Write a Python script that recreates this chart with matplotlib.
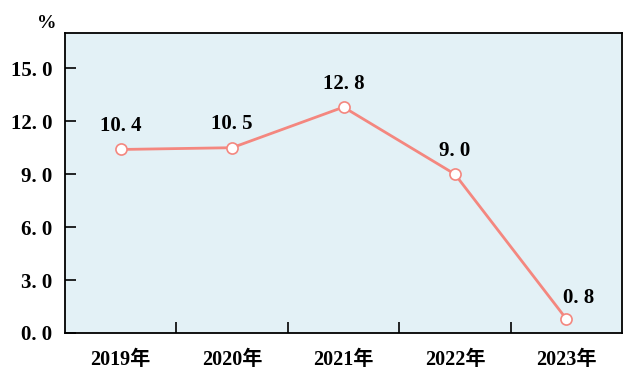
import matplotlib
matplotlib.use("Agg")
import matplotlib.pyplot as plt
from matplotlib.ticker import FixedLocator

categories = ["2019年", "2020年", "2021年", "2022年", "2023年"]
values = [10.4, 10.5, 12.8, 9.0, 0.8]
yticks = [0.0, 3.0, 6.0, 9.0, 12.0, 15.0]
ytick_labels = ["0. 0", "3. 0", "6. 0", "9. 0", "12. 0", "15. 0"]
value_labels = ["10. 4", "10. 5", "12. 8", "9. 0", "0. 8"]

fam = ["Liberation Serif", "Noto Sans CJK SC"]
line_color = "#F4877F"

fig = plt.figure(figsize=(6.42, 3.81), dpi=100)
ax = fig.add_axes([65/642, 48/381, 557/642, 300/381])
ax.set_facecolor("#E3F1F6")

x = list(range(len(categories)))
ax.plot(x, values, color=line_color, lw=2, marker="o", ms=8,
        mfc="white", mec=line_color, mew=1.2, zorder=3)

for i, (v, lab) in enumerate(zip(values, value_labels)):
    dx = 9 if i == len(values) - 1 else 0
    dy = 15 if i == len(values) - 1 else 17
    ax.annotate(lab, (i, v), xytext=(dx, dy), textcoords="offset points",
                ha="center", va="center", fontsize=15, fontweight="bold",
                family=fam, color="black")

ax.set_xlim(-0.5, len(categories) - 0.5)
ax.set_ylim(0, 17)
ax.set_yticks(yticks)
ax.set_yticklabels(ytick_labels, family=fam, fontsize=15, fontweight="bold")
ax.set_xticks(x)
ax.set_xticklabels(categories, family=fam, fontsize=14.5, fontweight="bold")
ax.tick_params(axis="x", which="major", length=0, pad=12)
ax.xaxis.set_minor_locator(FixedLocator([i + 0.5 for i in range(len(categories) - 1)]))
ax.tick_params(axis="x", which="minor", direction="in", length=8, width=1.2)
ax.tick_params(axis="y", direction="in", length=8, width=1.2, pad=9)
for s in ax.spines.values():
    s.set_linewidth(1.3)

fig.text(47/642, 1 - 24/381, "%", ha="center", va="center",
         family=fam, fontsize=14, fontweight="bold")

fig.savefig("out.png", dpi=100)
